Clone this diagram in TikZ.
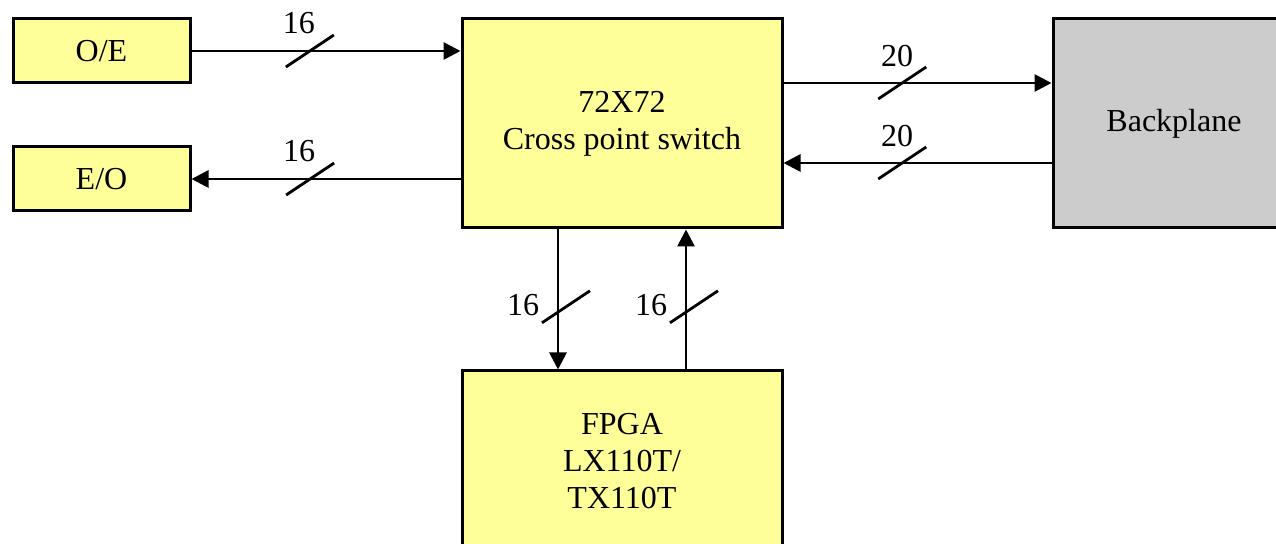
\documentclass[tikz,border=0pt]{standalone}
\usepackage{fontspec}
\setmainfont{Liberation Serif}
\usetikzlibrary{arrows.meta,calc}
\definecolor{boxyellow}{HTML}{FFFF99}
\definecolor{boxgray}{HTML}{CCCCCC}
\begin{document}
\begin{tikzpicture}[x=0.5pt,y=-0.5pt,
  box/.style={draw=black,line width=1.5pt,rectangle,inner sep=0pt,align=center,font=\fontsize{16}{18.5}\selectfont},
  ybox/.style={box,fill=boxyellow},
  gbox/.style={box,fill=boxgray},
  arr/.style={line width=1.4pt,-{Triangle[length=8.5pt,width=8.5pt]}},
  slashmark/.style={line width=1.4pt},
  lbl/.style={font=\fontsize{16}{16}\selectfont,inner sep=0pt}]
\useasboundingbox (0,0) rectangle (1276,544);
% boxes
\node[ybox,minimum width=88.5pt,minimum height=32pt] (oe) at (101.5,51) {O/E};
\node[ybox,minimum width=88.5pt,minimum height=32pt] (eo) at (101.5,179) {E/O};
\node[ybox,minimum width=160pt,minimum height=104.5pt] (sw) at (622,123.5) {72X72\\Cross point switch};
\node[gbox,minimum width=121pt,minimum height=104.5pt] (bp) at (1174,123.5) {Backplane};
\node[ybox,minimum width=160pt,minimum height=90pt] (fpga) at (622,461) {FPGA\\LX110T/\\TX110T};
% horizontal connectors
\draw[arr] (oe.east) -- coordinate[pos=0.44] (s1) (oe.east -| sw.west);
\draw[arr] (sw.west |- eo.east) -- coordinate[pos=0.559] (s2) (eo.east);
\coordinate (swa) at ($(sw.east)+(0,-40.5)$);
\coordinate (swb) at ($(sw.east)+(0,39.5)$);
\draw[arr] (swa) -- coordinate[pos=0.443] (s3) (swa -| bp.west);
\draw[arr] (swb -| bp.west) -- coordinate[pos=0.557] (s4) (swb);
% vertical connectors
\coordinate (swc) at ($(sw.south)+(-64,0)$);
\coordinate (swd) at ($(sw.south)+(64,0)$);
\draw[arr] (swc) -- coordinate[pos=0.552] (s5) (swc |- fpga.north);
\draw[arr] (swd |- fpga.north) -- coordinate[pos=0.448] (s6) (swd);
% slash marks and labels
\foreach \s/\t in {s1/16,s2/16} {
  \draw[slashmark] ($(\s)+(-24,16)$) -- ($(\s)+(24,-16)$);
  \node[lbl] at ($(\s)+(-11,-27.5)$) {\t};
}
\foreach \s/\t in {s3/20,s4/20} {
  \draw[slashmark] ($(\s)+(-24,16)$) -- ($(\s)+(24,-16)$);
  \node[lbl] at ($(\s)+(-5,-27)$) {\t};
}
\foreach \s/\t in {s5/16,s6/16} {
  \draw[slashmark] ($(\s)+(-16,16)$) -- ($(\s)+(32,-16)$);
  \node[lbl] at ($(\s)+(-35,-1.5)$) {\t};
}
\end{tikzpicture}
\end{document}
